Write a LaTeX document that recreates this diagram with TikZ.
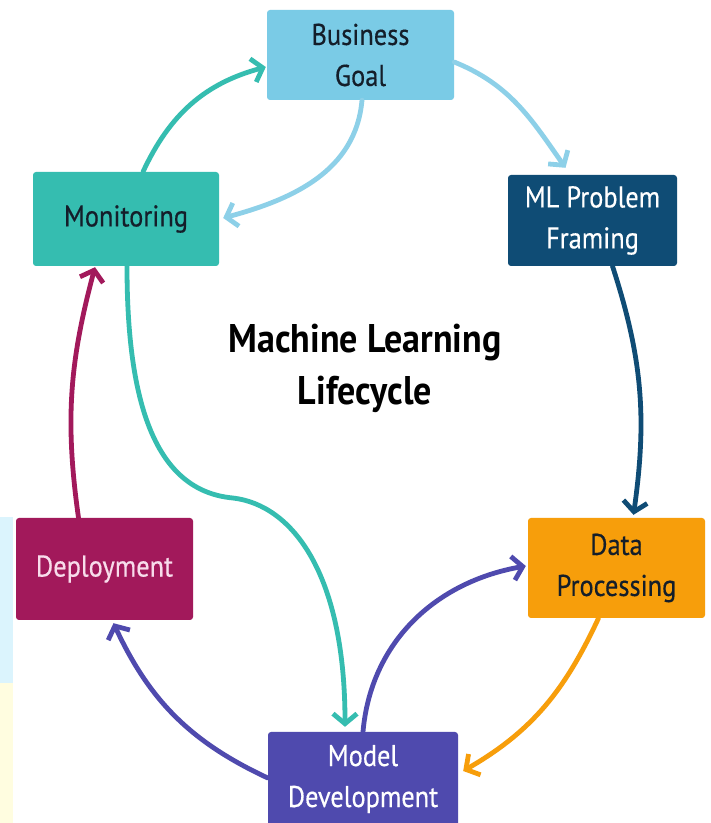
\documentclass[tikz,border=0pt]{standalone}
\usepackage{fontspec}
\setmainfont{PT Sans}[FakeStretch=0.88,FakeBold=0.4]
\newfontfamily\titlefont{PT Sans}[FakeStretch=0.9]
\usetikzlibrary{arrows.meta,calc}
\definecolor{cBG}{HTML}{7ACBE6}
\definecolor{cBGa}{HTML}{8DD0E8}
\definecolor{cML}{HTML}{0F4C75}
\definecolor{cMon}{HTML}{35BDB0}
\definecolor{cDP}{HTML}{F79E0B}
\definecolor{cDep}{HTML}{A2195B}
\definecolor{cMD}{HTML}{4F4AAE}
\definecolor{cDark}{HTML}{141E2A}
\definecolor{cPink}{HTML}{F8DCEB}
\begin{document}
\begin{tikzpicture}[x=1pt,y=1pt,
  box/.style={rounded corners=3pt, align=center, font=\fontsize{30}{41}\selectfont, inner sep=0pt},
  conn/.style={line width=4.8pt, line cap=round, -{Straight Barb[length=10pt,width=24pt,line width=4.8pt]}}]
\useasboundingbox (0,0) rectangle (711,823);
\fill[white] (0,0) rectangle (711,823);
\fill[cyan!14] (0,133) rectangle (13,306);
\fill[yellow!12] (0,0) rectangle (13,140);
% boxes
\node[box, fill=cBG, text=cDark, minimum width=187pt, minimum height=90pt] (bg) at (360.5,768) {Business\\Goal};
\node[box, fill=cML, text=white, minimum width=169pt, minimum height=91pt] (ml) at (592.5,602.5) {ML Problem\\Framing};
\node[box, fill=cMon, text=cDark, minimum width=186pt, minimum height=94pt] (mon) at (126,604) {Monitoring};
\node[box, fill=cDP, text=cDark, minimum width=177pt, minimum height=100pt] (dp) at (616.5,255) {Data\\Processing};
\node[box, fill=cDep, text=cPink, minimum width=177pt, minimum height=102pt] (dep) at (104.5,254) {Deployment};
\node[box, fill=cMD, text=white, minimum width=190pt, minimum height=94pt] (md) at (363,44) {Model\\Development};
\node[align=center, font=\titlefont\bfseries\fontsize{40}{52}\selectfont, text=black] (title) at (365,455) {Machine Learning\\Lifecycle};
% connectors
\draw[conn, cMon] ([xshift=17pt]mon.north) to[out=65,in=195] ([yshift=-12pt,xshift=-1pt]bg.west);
\draw[conn, cBGa] ([xshift=1.5pt]bg.south) to[out=-95,in=15] ([xshift=4pt,yshift=1pt]mon.east);
\draw[conn, cBGa] ([yshift=-7pt]bg.east) to[out=-22,in=125] ([xshift=-27pt,yshift=7pt]ml.north);
\draw[conn, cML] ([xshift=20pt]ml.south) to[out=-72,in=82] ([xshift=17pt,yshift=3pt]dp.north);
\draw[conn, cDP] ([xshift=-18pt]dp.south) to[out=-115,in=30] ([xshift=5pt,yshift=8pt]md.east);
\draw[conn, cMD] (md.north) to[out=85,in=190] ([xshift=-2pt,yshift=2pt]dp.west);
\draw[conn, cMD] ([yshift=1pt]md.west) to[out=155,in=-65] ([xshift=9pt,yshift=-3pt]dep.south);
\draw[conn, cDep] ([xshift=-26pt]dep.north) to[out=98,in=-105] ([xshift=-31pt,yshift=-1pt]mon.south);
\coordinate (mid) at (233,325);
\draw[conn, cMon] ([xshift=1pt]mon.south) .. controls (127,420) and (155,332) .. (mid)
   .. controls (292,318) and (345,250) .. ([xshift=-18pt,yshift=5pt]md.north);
\end{tikzpicture}
\end{document}
